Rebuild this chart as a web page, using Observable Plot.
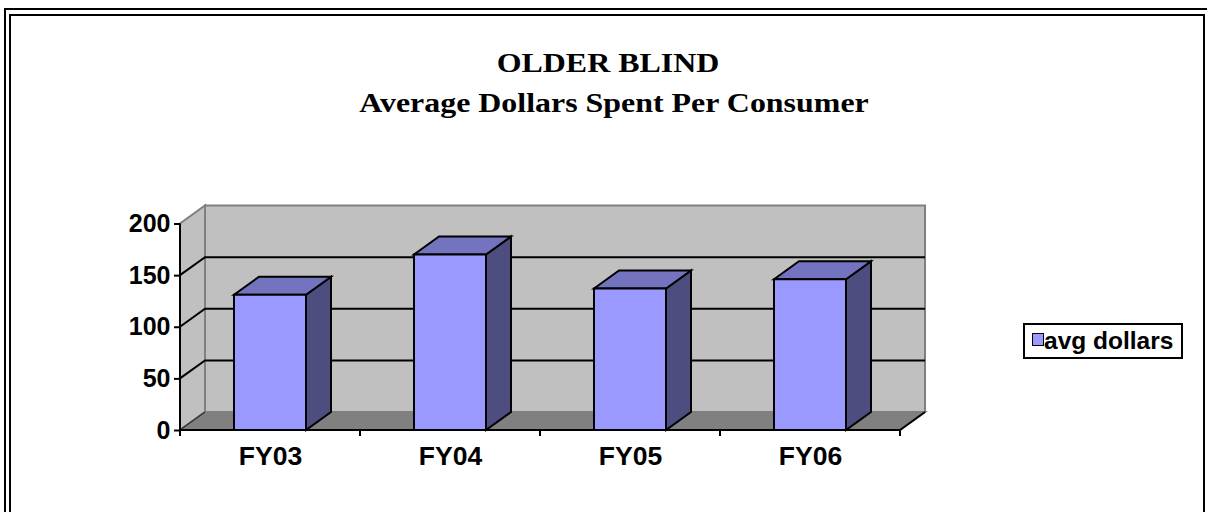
<!DOCTYPE html>
<html>
<head>
<meta charset="utf-8">
<script src="https://cdn.jsdelivr.net/npm/d3@7"></script>
<script src="https://cdn.jsdelivr.net/npm/@observablehq/plot@0.6"></script>
<style>
  html, body { margin: 0; padding: 0; background: #fff; }
  #wrap { position: relative; width: 1207px; height: 512px; overflow: hidden; background: #fff; }
  .outer { position: absolute; left: 4px; top: 8px; width: 1220px; height: 600px; border: 2px solid #000; box-sizing: border-box; }
  .inner { position: absolute; left: 9px; top: 14px; width: 1196px; height: 600px; border: 2px solid #000; box-sizing: border-box; }
  .title { position: absolute; width: 800px; text-align: center; font-family: "Liberation Serif", "Times New Roman", serif; font-weight: bold; font-size: 28px; line-height: 28px; color: #000; white-space: nowrap; transform: scaleX(1.14); transform-origin: 50% 50%; }
  #chart { position: absolute; left: 0; top: 0; }
  .legend { position: absolute; left: 1023px; top: 323px; width: 160px; height: 36px; border: 2px solid #000; box-sizing: border-box; background: #fff; }
  .swatch { position: absolute; left: 7px; top: 8px; width: 12px; height: 13px; border: 1.5px solid #000; background: #9999ff; box-sizing: border-box; }
  .ltext { position: absolute; left: 19px; top: 2px; font-family: "Liberation Sans", Arial, sans-serif; font-weight: bold; font-size: 24.5px; line-height: 28px; color: #000; white-space: nowrap; }
</style>
</head>
<body>
<div id="wrap">
  <div class="outer"></div>
  <div class="inner"></div>
  <div class="title" style="top:49px; left:208px">OLDER BLIND</div>
  <div class="title" style="top:89px; left:214px">Average Dollars Spent Per Consumer</div>
  <div id="chart"></div>
  <div class="legend"><div class="swatch"></div><div class="ltext" id="ltext"></div></div>
</div>
<script>
// ---- data ----
const categories = ["FY03", "FY04", "FY05", "FY06"];
const avgDollars = [131, 170, 137, 146];
const yTicks = [0, 50, 100, 150, 200];
const gridValues = [50, 100, 150];
const seriesName = "avg dollars";

const rows = categories.map((c, i) => ({category: c, value: avgDollars[i]}));

// ---- 3D scene drawn through Plot's scales ----
const DX = 25, DY = -18;            // depth offset of the 3D box
const BAR_FRAC = 0.4;               // bar width as fraction of band

function scene(index, scales) {
  const x = scales.x, y = scales.y;
  const bw = x(categories[1]) - x(categories[0]);
  const x0 = x(categories[0]);
  const x1 = x(categories[categories.length - 1]) + bw;
  const yb = y(yTicks[0]);
  const yt = y(yTicks[yTicks.length - 1]);
  const g = d3.create("svg:g");
  const poly = (pts, fill, stroke, sw) =>
    g.append("path")
      .attr("d", "M" + pts.map(p => p.join(",")).join("L") + "Z")
      .attr("fill", fill).attr("stroke", stroke).attr("stroke-width", sw)
      .attr("stroke-linejoin", "miter");
  const line = (pts, stroke, sw) =>
    g.append("path")
      .attr("d", "M" + pts.map(p => p.join(",")).join("L"))
      .attr("fill", "none").attr("stroke", stroke).attr("stroke-width", sw);

  // back wall
  poly([[x0 + DX, yt + DY], [x1 + DX, yt + DY], [x1 + DX, yb + DY], [x0 + DX, yb + DY]], "#c0c0c0", "#808080", 2);
  // left side wall
  poly([[x0, yt], [x0 + DX, yt + DY], [x0 + DX, yb + DY], [x0, yb]], "#c0c0c0", "#808080", 2);
  // floor
  poly([[x0, yb], [x0 + DX, yb + DY], [x1 + DX, yb + DY], [x1, yb]], "#808080", "#808080", 2);
  // gridlines
  for (const t of gridValues) {
    line([[x0, y(t)], [x0 + DX, y(t) + DY], [x1 + DX, y(t) + DY]], "#000", 2);
  }
  // floor side edges
  line([[x0, yb], [x0 + DX, yb + DY]], "#333", 1.5);
  line([[x1, yb], [x1 + DX, yb + DY]], "#000", 2);

  // bars
  rows.forEach(d => {
    const c = x(d.category) + bw / 2;
    const bl = c - bw * BAR_FRAC / 2, br = c + bw * BAR_FRAC / 2;
    const top = y(d.value);
    // side face
    poly([[br, top], [br + DX, top + DY], [br + DX, yb + DY], [br, yb]], "#4d4d80", "#000", 2);
    // top face
    poly([[bl, top], [bl + DX, top + DY], [br + DX, top + DY], [br, top]], "#7373bf", "#000", 2);
    // front face
    poly([[bl, top], [br, top], [br, yb], [bl, yb]], "#9999ff", "#000", 2);
  });

  // axes lines
  line([[x0, yt], [x0, yb]], "#000", 2);
  line([[x0, yb], [x1, yb]], "#000", 2);
  // category boundary ticks
  for (let i = 0; i <= categories.length; i++) {
    const tx = x0 + i * bw;
    line([[tx, yb], [tx, yb + 6]], "#000", 2);
  }
  return g.node();
}

const chart = Plot.plot({
  width: 1207,
  height: 512,
  marginLeft: 180,
  marginRight: 307,
  marginTop: 223.5,
  marginBottom: 82,
  style: {background: "transparent", fontFamily: "'Liberation Sans', Arial, sans-serif", color: "#000", overflow: "visible"},
  x: {type: "band", domain: categories, range: [180, 900], padding: 0},
  y: {type: "linear", domain: [0, 200], range: [430, 223.5]},
  marks: [
    scene,
    Plot.axisY({ticks: yTicks, tickSize: 6, tickPadding: 4, fontSize: 25, fontWeight: "bold", strokeWidth: 2, stroke: "#000", label: null}),
    Plot.axisX({tickSize: 0, tickPadding: 16, fontSize: 26.5, fontWeight: "bold", label: null})
  ]
});
document.getElementById("chart").appendChild(chart);
document.getElementById("ltext").textContent = seriesName;
</script>
</body>
</html>
